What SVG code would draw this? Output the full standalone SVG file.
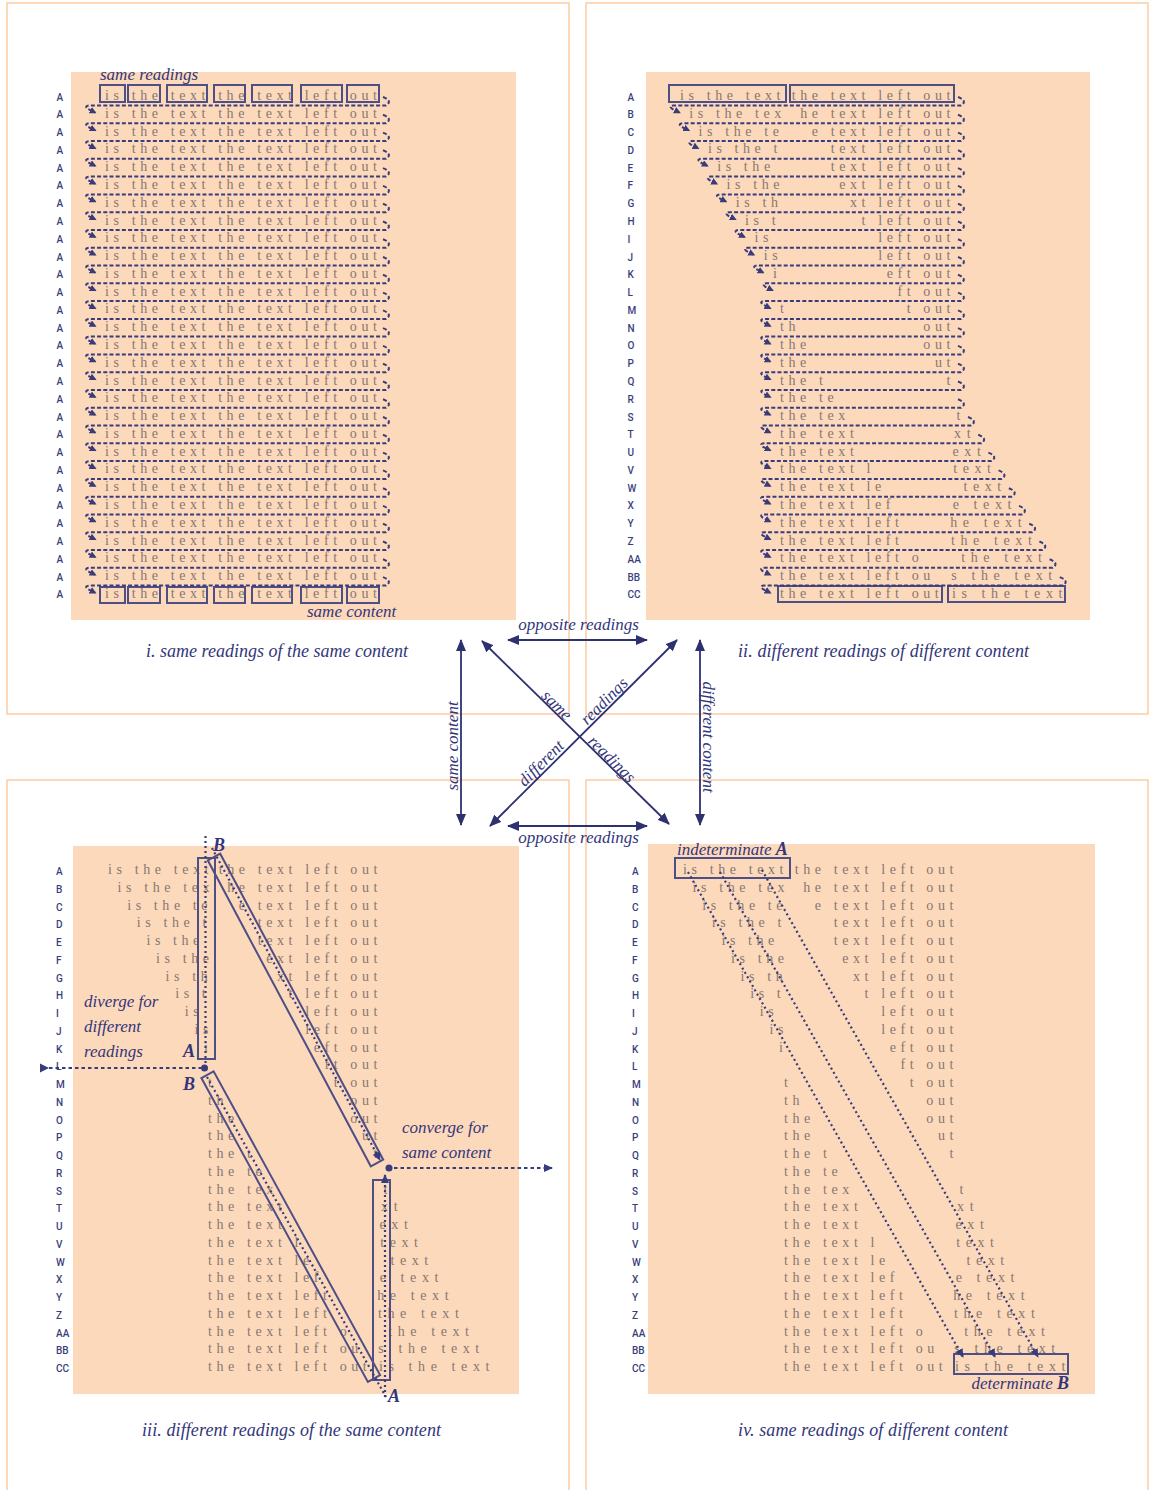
<svg xmlns="http://www.w3.org/2000/svg" xmlns:xlink="http://www.w3.org/1999/xlink" width="1149" height="1490" viewBox="0 0 1149 1490">
<style>
.fr{fill:none;stroke:#fcc594;stroke-width:1.3}
.bg{fill:#fdd9bc}
.t{font-family:"Liberation Serif","Times New Roman",serif;font-size:14px;letter-spacing:4.6px;fill:#85776f}
.e{text-anchor:end}
.w{letter-spacing:5.6px}
.lb{font-family:Roboto,"Liberation Sans",sans-serif;font-size:10px;font-weight:500;fill:#3a3e7d}
.it{font-family:"Liberation Serif","Times New Roman",serif;font-style:italic;font-size:17px;fill:#33367a}
.cap{font-size:18px}
.b{font-weight:bold;font-size:18px}
.bx{fill:none;stroke:#4d4f85;stroke-width:2}
.ds{fill:none;stroke:#383c7c;stroke-width:2;stroke-dasharray:4 2.2;marker-end:url(#ah)}
.dt{fill:none;stroke:#383c7c;stroke-width:2.2;stroke-dasharray:2 3}
.dh{fill:none;stroke:#383c7c;stroke-width:2;stroke-dasharray:3.5 3}
.ar{fill:none;stroke:#2e3170;stroke-width:1.8;marker-start:url(#big);marker-end:url(#big)}
.nv{fill:#383c7c}
</style>
<defs>
<marker id="ah" viewBox="0 0 8 8" refX="6" refY="4" markerWidth="7" markerHeight="7" markerUnits="userSpaceOnUse" orient="auto"><path d="M0,0L8,4L0,8z" fill="#383c7c"/></marker>
<marker id="big" viewBox="0 0 12 10" refX="11" refY="5" markerWidth="12" markerHeight="10" markerUnits="userSpaceOnUse" orient="auto-start-reverse"><path d="M0,0L12,5L0,10z" fill="#2e3170"/></marker>
<marker id="mid" viewBox="0 0 9 8" refX="8" refY="4" markerWidth="9" markerHeight="8" markerUnits="userSpaceOnUse" orient="auto"><path d="M0,0L9,4L0,8z" fill="#383c7c"/></marker>
<path id="r1" class="ds" d="M383 -3q10 4 3 8.5H89q-5 .5-1 3.5l7 3.5"/>
</defs>
<rect width="1149" height="1490" fill="#fff"/>

<!-- PANEL I -->
<g id="panel-i">
<rect class="fr" x="7" y="3" width="562" height="711"/>
<rect class="bg" x="71" y="72" width="445" height="548"/>
<g id="panel-i-labels" class="lb">
<text x="56.5" y="100.5">A</text><text x="56.5" y="118.3">A</text><text x="56.5" y="136.1">A</text><text x="56.5" y="153.8">A</text><text x="56.5" y="171.6">A</text><text x="56.5" y="189.4">A</text><text x="56.5" y="207.2">A</text><text x="56.5" y="225">A</text><text x="56.5" y="242.7">A</text><text x="56.5" y="260.5">A</text><text x="56.5" y="278.3">A</text><text x="56.5" y="296.1">A</text><text x="56.5" y="313.9">A</text><text x="56.5" y="331.6">A</text><text x="56.5" y="349.4">A</text><text x="56.5" y="367.2">A</text><text x="56.5" y="385">A</text><text x="56.5" y="402.8">A</text><text x="56.5" y="420.5">A</text><text x="56.5" y="438.3">A</text><text x="56.5" y="456.1">A</text><text x="56.5" y="473.9">A</text><text x="56.5" y="491.7">A</text><text x="56.5" y="509.4">A</text><text x="56.5" y="527.2">A</text><text x="56.5" y="545">A</text><text x="56.5" y="562.8">A</text><text x="56.5" y="580.6">A</text><text x="56.5" y="598.3">A</text>
</g>
<g id="panel-i-rows" class="t">
<text x="105" y="100">is the text the text left out</text><text x="105" y="117.8">is the text the text left out</text><text x="105" y="135.6">is the text the text left out</text><text x="105" y="153.3">is the text the text left out</text><text x="105" y="171.1">is the text the text left out</text><text x="105" y="188.9">is the text the text left out</text><text x="105" y="206.7">is the text the text left out</text><text x="105" y="224.5">is the text the text left out</text><text x="105" y="242.2">is the text the text left out</text><text x="105" y="260">is the text the text left out</text><text x="105" y="277.8">is the text the text left out</text><text x="105" y="295.6">is the text the text left out</text><text x="105" y="313.4">is the text the text left out</text><text x="105" y="331.1">is the text the text left out</text><text x="105" y="348.9">is the text the text left out</text><text x="105" y="366.7">is the text the text left out</text><text x="105" y="384.5">is the text the text left out</text><text x="105" y="402.3">is the text the text left out</text><text x="105" y="420">is the text the text left out</text><text x="105" y="437.8">is the text the text left out</text><text x="105" y="455.6">is the text the text left out</text><text x="105" y="473.4">is the text the text left out</text><text x="105" y="491.2">is the text the text left out</text><text x="105" y="508.9">is the text the text left out</text><text x="105" y="526.7">is the text the text left out</text><text x="105" y="544.5">is the text the text left out</text><text x="105" y="562.3">is the text the text left out</text><text x="105" y="580.1">is the text the text left out</text><text x="105" y="597.8">is the text the text left out</text>
</g>
<g id="panel-i-boxes" class="bx">
<rect x="100" y="85" width="25" height="17"/><rect x="128" y="85" width="32" height="17"/><rect x="167" y="85" width="40" height="17"/><rect x="214" y="85" width="31" height="17"/><rect x="252" y="85" width="40" height="17"/><rect x="301" y="85" width="41" height="17"/><rect x="347" y="85" width="32" height="17"/>
<rect x="100" y="587" width="25" height="16"/><rect x="128" y="587" width="32" height="16"/><rect x="167" y="587" width="40" height="16"/><rect x="214" y="587" width="31" height="16"/><rect x="252" y="587" width="40" height="16"/><rect x="301" y="587" width="41" height="16"/><rect x="347" y="587" width="32" height="16"/>
</g>
<g id="panel-i-returns">
<use href="#r1" y="100"/><use href="#r1" y="117.8"/><use href="#r1" y="135.6"/><use href="#r1" y="153.3"/><use href="#r1" y="171.1"/><use href="#r1" y="188.9"/><use href="#r1" y="206.7"/><use href="#r1" y="224.5"/><use href="#r1" y="242.2"/><use href="#r1" y="260"/><use href="#r1" y="277.8"/><use href="#r1" y="295.6"/><use href="#r1" y="313.4"/><use href="#r1" y="331.1"/><use href="#r1" y="348.9"/><use href="#r1" y="366.7"/><use href="#r1" y="384.5"/><use href="#r1" y="402.3"/><use href="#r1" y="420"/><use href="#r1" y="437.8"/><use href="#r1" y="455.6"/><use href="#r1" y="473.4"/><use href="#r1" y="491.2"/><use href="#r1" y="508.9"/><use href="#r1" y="526.7"/><use href="#r1" y="544.5"/><use href="#r1" y="562.3"/><use href="#r1" y="580.1"/>
</g>
<text class="it" x="100" y="80">same readings</text>
<text class="it" x="307" y="617">same content</text>
<text class="it cap" x="146" y="657" textLength="262">i. same readings of the same content</text>
</g>

<!-- PANEL II -->
<g id="panel-ii">
<rect class="fr" x="586" y="3" width="562" height="711"/>
<rect class="bg" x="646" y="72" width="444" height="548"/>
<g class="lb">
<text x="627.5" y="100.5">A</text><text x="627.5" y="118.3">B</text><text x="627.5" y="136.1">C</text><text x="627.5" y="153.8">D</text><text x="627.5" y="171.6">E</text><text x="627.5" y="189.4">F</text><text x="627.5" y="207.2">G</text><text x="627.5" y="225">H</text><text x="627.5" y="242.7">I</text><text x="627.5" y="260.5">J</text><text x="627.5" y="278.3">K</text><text x="627.5" y="296.1">L</text><text x="627.5" y="313.9">M</text><text x="627.5" y="331.6">N</text><text x="627.5" y="349.4">O</text><text x="627.5" y="367.2">P</text><text x="627.5" y="385">Q</text><text x="627.5" y="402.8">R</text><text x="627.5" y="420.5">S</text><text x="627.5" y="438.3">T</text><text x="627.5" y="456.1">U</text><text x="627.5" y="473.9">V</text><text x="627.5" y="491.7">W</text><text x="627.5" y="509.4">X</text><text x="627.5" y="527.2">Y</text><text x="627.5" y="545">Z</text><text x="627.5" y="562.8">AA</text><text x="627.5" y="580.6">BB</text><text x="627.5" y="598.3">CC</text>
</g>
<g class="t">
<text x="680" y="100">is the text</text><text class="e" x="955" y="100">the text left out</text>
<text x="689.3" y="117.8">is the tex</text><text class="e" x="955" y="117.8">he text left out</text>
<text x="698.6" y="135.6">is the te</text><text class="e" x="955" y="135.6">e text left out</text>
<text x="707.9" y="153.3">is the t</text><text class="e" x="955" y="153.3">text left out</text>
<text x="717.2" y="171.1">is the</text><text class="e" x="955" y="171.1">text left out</text>
<text x="726.5" y="188.9">is the</text><text class="e" x="955" y="188.9">ext left out</text>
<text x="735.8" y="206.7">is th</text><text class="e" x="955" y="206.7">xt left out</text>
<text x="745.1" y="224.5">is t</text><text class="e" x="955" y="224.5">t left out</text>
<text x="754.4" y="242.2">is</text><text class="e" x="955" y="242.2">left out</text>
<text x="763.7" y="260">is</text><text class="e" x="955" y="260">left out</text>
<text x="773" y="277.8">i</text><text class="e" x="955" y="277.8">eft out</text>
<text class="e" x="955" y="295.6">ft out</text>
<text x="780" y="313.4">t</text><text class="e" x="955" y="313.4">t out</text>
<text x="780" y="331.1">th</text><text class="e" x="955" y="331.1">out</text>
<text x="780" y="348.9">the</text><text class="e" x="955" y="348.9">out</text>
<text x="780" y="366.7">the</text><text class="e" x="955" y="366.7">ut</text>
<text x="780" y="384.5">the t</text><text class="e" x="955" y="384.5">t</text>
<text x="780" y="402.3">the te</text>
<text x="780" y="420">the tex</text><text class="e w" x="966" y="420">t</text>
<text x="780" y="437.8">the text</text><text class="e w" x="976.2" y="437.8">xt</text>
<text x="780" y="455.6">the text</text><text class="e w" x="986.4" y="455.6">ext</text>
<text x="780" y="473.4">the text l</text><text class="e w" x="996.6" y="473.4">text</text>
<text x="780" y="491.2">the text le</text><text class="e w" x="1006.8" y="491.2">text</text>
<text x="780" y="508.9">the text lef</text><text class="e w" x="1017" y="508.9">e text</text>
<text x="780" y="526.7">the text left</text><text class="e w" x="1027.2" y="526.7">he text</text>
<text x="780" y="544.5">the text left</text><text class="e w" x="1037.4" y="544.5">the text</text>
<text x="780" y="562.3">the text left o</text><text class="e w" x="1047.6" y="562.3">the text</text>
<text x="780" y="580.1">the text left ou</text><text class="e w" x="1057.8" y="580.1">s the text</text>
<text x="780" y="597.8">the text left out</text><text class="e w" x="1068" y="597.8">is the text</text>
</g>
<g class="bx">
<rect x="669" y="85" width="117" height="17"/><rect x="790" y="85" width="164" height="17"/>
<rect x="778" y="586" width="164" height="16"/><rect x="948" y="586" width="117" height="16"/>
</g>
<g id="panel-ii-returns">
<path class="ds" d="M958 97q10 4 3 8.5H673.3q-5 .5-1 3.5l7 3.5"/>
<path class="ds" d="M958 114.8q10 4 3 8.5H682.6q-5 .5-1 3.5l7 3.5"/>
<path class="ds" d="M958 132.6q10 4 3 8.5H691.9q-5 .5-1 3.5l7 3.5"/>
<path class="ds" d="M958 150.3q10 4 3 8.5H701.2q-5 .5-1 3.5l7 3.5"/>
<path class="ds" d="M958 168.1q10 4 3 8.5H710.5q-5 .5-1 3.5l7 3.5"/>
<path class="ds" d="M958 185.9q10 4 3 8.5H719.8q-5 .5-1 3.5l7 3.5"/>
<path class="ds" d="M958 203.7q10 4 3 8.5H729.1q-5 .5-1 3.5l7 3.5"/>
<path class="ds" d="M958 221.5q10 4 3 8.5H738.4q-5 .5-1 3.5l7 3.5"/>
<path class="ds" d="M958 239.2q10 4 3 8.5H747.7q-5 .5-1 3.5l7 3.5"/>
<path class="ds" d="M958 257q10 4 3 8.5H757q-5 .5-1 3.5l7 3.5"/>
<path class="ds" d="M958 274.8q10 4 3 8.5H766.3q-5 .5-1 3.5l7 3.5"/>
<path class="ds" d="M958 292.6q10 4 3 8.5H764q-5 .5-1 3.5l7 3.5"/>
<path class="ds" d="M958 310.4q10 4 3 8.5H764q-5 .5-1 3.5l7 3.5"/>
<path class="ds" d="M958 328.1q10 4 3 8.5H764q-5 .5-1 3.5l7 3.5"/>
<path class="ds" d="M958 345.9q10 4 3 8.5H764q-5 .5-1 3.5l7 3.5"/>
<path class="ds" d="M958 363.7q10 4 3 8.5H764q-5 .5-1 3.5l7 3.5"/>
<path class="ds" d="M958 381.5q10 4 3 8.5H764q-5 .5-1 3.5l7 3.5"/>
<path class="ds" d="M958 399.3q10 4 3 8.5H764q-5 .5-1 3.5l7 3.5"/>
<path class="ds" d="M968 417q10 4 3 8.5H764q-5 .5-1 3.5l7 3.5"/>
<path class="ds" d="M978.2 434.8q10 4 3 8.5H764q-5 .5-1 3.5l7 3.5"/>
<path class="ds" d="M988.4 452.6q10 4 3 8.5H764q-5 .5-1 3.5l7 3.5"/>
<path class="ds" d="M998.6 470.4q10 4 3 8.5H764q-5 .5-1 3.5l7 3.5"/>
<path class="ds" d="M1008.8 488.2q10 4 3 8.5H764q-5 .5-1 3.5l7 3.5"/>
<path class="ds" d="M1019 505.9q10 4 3 8.5H764q-5 .5-1 3.5l7 3.5"/>
<path class="ds" d="M1029.2 523.7q10 4 3 8.5H764q-5 .5-1 3.5l7 3.5"/>
<path class="ds" d="M1039.4 541.5q10 4 3 8.5H764q-5 .5-1 3.5l7 3.5"/>
<path class="ds" d="M1049.6 559.3q10 4 3 8.5H764q-5 .5-1 3.5l7 3.5"/>
<path class="ds" d="M1059.8 577.1q10 4 3 8.5H764q-5 .5-1 3.5l7 3.5"/>
</g>
<text class="it cap" x="738" y="657" textLength="291">ii. different readings of different content</text>
</g>

<!-- PANEL III -->
<g id="panel-iii">
<rect class="fr" x="7" y="780" width="562" height="716"/>
<rect class="bg" x="73" y="846" width="446" height="548"/>
<g class="lb">
<text x="56" y="875">A</text><text x="56" y="892.8">B</text><text x="56" y="910.5">C</text><text x="56" y="928.3">D</text><text x="56" y="946">E</text><text x="56" y="963.8">F</text><text x="56" y="981.5">G</text><text x="56" y="999.3">H</text><text x="56" y="1017">I</text><text x="56" y="1034.8">J</text><text x="56" y="1052.5">K</text><text x="56" y="1070.3">L</text><text x="56" y="1088">M</text><text x="56" y="1105.8">N</text><text x="56" y="1123.5">O</text><text x="56" y="1141.3">P</text><text x="56" y="1159">Q</text><text x="56" y="1176.8">R</text><text x="56" y="1194.5">S</text><text x="56" y="1212.3">T</text><text x="56" y="1230">U</text><text x="56" y="1247.8">V</text><text x="56" y="1265.5">W</text><text x="56" y="1283.3">X</text><text x="56" y="1301">Y</text><text x="56" y="1318.8">Z</text><text x="56" y="1336.5">AA</text><text x="56" y="1354.3">BB</text><text x="56" y="1372">CC</text>
</g>
<g class="t">
<text x="108" y="874">is the text</text><text class="e" x="382" y="874">the text left out</text>
<text x="117.6" y="891.75">is the tex</text><text class="e" x="382" y="891.75">he text left out</text>
<text x="127.2" y="909.5">is the te</text><text class="e" x="382" y="909.5">e text left out</text>
<text x="136.8" y="927.25">is the t</text><text class="e" x="382" y="927.25">text left out</text>
<text x="146.4" y="945">is the</text><text class="e" x="382" y="945">text left out</text>
<text x="156" y="962.75">is the</text><text class="e" x="382" y="962.75">ext left out</text>
<text x="165.6" y="980.5">is th</text><text class="e" x="382" y="980.5">xt left out</text>
<text x="175.2" y="998.25">is t</text><text class="e" x="382" y="998.25">t left out</text>
<text x="184.8" y="1016">is</text><text class="e" x="382" y="1016">left out</text>
<text x="194.4" y="1033.75">is</text><text class="e" x="382" y="1033.75">left out</text>
<text x="204" y="1051.5">i</text><text class="e" x="382" y="1051.5">eft out</text>
<text class="e" x="382" y="1069.25">ft out</text>
<text x="208" y="1087">t</text><text class="e" x="382" y="1087">t out</text>
<text x="208" y="1104.75">th</text><text class="e" x="382" y="1104.75">out</text>
<text x="208" y="1122.5">the</text><text class="e" x="382" y="1122.5">out</text>
<text x="208" y="1140.25">the</text><text class="e" x="382" y="1140.25">ut</text>
<text x="208" y="1158">the t</text><text class="e" x="382" y="1158">t</text>
<text x="208" y="1175.75">the te</text>
<text x="208" y="1193.5">the tex</text><text class="e w" x="393" y="1193.5">t</text>
<text x="208" y="1211.25">the text</text><text class="e w" x="403.2" y="1211.25">xt</text>
<text x="208" y="1229">the text</text><text class="e w" x="413.4" y="1229">ext</text>
<text x="208" y="1246.75">the text l</text><text class="e w" x="423.6" y="1246.75">text</text>
<text x="208" y="1264.5">the text le</text><text class="e w" x="433.8" y="1264.5">text</text>
<text x="208" y="1282.25">the text lef</text><text class="e w" x="444" y="1282.25">e text</text>
<text x="208" y="1300">the text left</text><text class="e w" x="454.2" y="1300">he text</text>
<text x="208" y="1317.75">the text left</text><text class="e w" x="464.4" y="1317.75">the text</text>
<text x="208" y="1335.5">the text left o</text><text class="e w" x="474.6" y="1335.5">the text</text>
<text x="208" y="1353.25">the text left ou</text><text class="e w" x="484.8" y="1353.25">s the text</text>
<text x="208" y="1371">the text left out</text><text class="e w" x="495" y="1371">is the text</text>
</g>
<g class="bx">
<rect x="198" y="858" width="17" height="201"/>
<polygon points="207.8,860.3 220.2,853.7 383.2,1159.7 370.8,1166.3"/>
<polygon points="201.4,1078.1 213.6,1071.3 380.1,1375.1 367.9,1381.9"/>
<rect x="373" y="1180" width="17" height="200"/>
</g>
<g id="panel-iii-paths">
<path class="dt" d="M205.5 836V1064"/>
<path class="dt" d="M212 848L380 1160" marker-end="url(#mid)"/>
<path class="dt" d="M207 1077L386 1397"/>
<path class="dt" d="M385 1397V1175" marker-end="url(#mid)"/>
<path class="dh" d="M49 1068H201"/>
<polygon class="nv" points="40,1063.5 40,1072.5 49,1068"/>
<circle class="nv" cx="204.5" cy="1068" r="3.5"/>
<circle class="nv" cx="389" cy="1168" r="3.5"/>
<path class="dh" d="M394 1168H552" marker-end="url(#mid)"/>
</g>
<text class="it b" x="213" y="851">B</text>
<text class="it b" x="183" y="1057">A</text>
<text class="it b" x="183" y="1090">B</text>
<text class="it b" x="388" y="1402">A</text>
<text class="it" x="84" y="1007">diverge for</text>
<text class="it" x="84" y="1032">different</text>
<text class="it" x="84" y="1057">readings</text>
<text class="it" x="402" y="1133">converge for</text>
<text class="it" x="402" y="1158">same content</text>
<text class="it cap" x="142" y="1436" textLength="299">iii. different readings of the same content</text>
</g>

<!-- PANEL IV -->
<g id="panel-iv">
<rect class="fr" x="586" y="780" width="562" height="716"/>
<rect class="bg" x="648" y="844" width="447" height="550"/>
<g class="lb">
<text x="632" y="875">A</text><text x="632" y="892.8">B</text><text x="632" y="910.5">C</text><text x="632" y="928.3">D</text><text x="632" y="946">E</text><text x="632" y="963.8">F</text><text x="632" y="981.5">G</text><text x="632" y="999.3">H</text><text x="632" y="1017">I</text><text x="632" y="1034.8">J</text><text x="632" y="1052.5">K</text><text x="632" y="1070.3">L</text><text x="632" y="1088">M</text><text x="632" y="1105.8">N</text><text x="632" y="1123.5">O</text><text x="632" y="1141.3">P</text><text x="632" y="1159">Q</text><text x="632" y="1176.8">R</text><text x="632" y="1194.5">S</text><text x="632" y="1212.3">T</text><text x="632" y="1230">U</text><text x="632" y="1247.8">V</text><text x="632" y="1265.5">W</text><text x="632" y="1283.3">X</text><text x="632" y="1301">Y</text><text x="632" y="1318.8">Z</text><text x="632" y="1336.5">AA</text><text x="632" y="1354.3">BB</text><text x="632" y="1372">CC</text>
</g>
<g class="t">
<text x="683" y="874">is the text</text><text class="e" x="958" y="874">the text left out</text>
<text x="692.6" y="891.75">is the tex</text><text class="e" x="958" y="891.75">he text left out</text>
<text x="702.2" y="909.5">is the te</text><text class="e" x="958" y="909.5">e text left out</text>
<text x="711.8" y="927.25">is the t</text><text class="e" x="958" y="927.25">text left out</text>
<text x="721.4" y="945">is the</text><text class="e" x="958" y="945">text left out</text>
<text x="731" y="962.75">is the</text><text class="e" x="958" y="962.75">ext left out</text>
<text x="740.6" y="980.5">is th</text><text class="e" x="958" y="980.5">xt left out</text>
<text x="750.2" y="998.25">is t</text><text class="e" x="958" y="998.25">t left out</text>
<text x="759.8" y="1016">is</text><text class="e" x="958" y="1016">left out</text>
<text x="769.4" y="1033.75">is</text><text class="e" x="958" y="1033.75">left out</text>
<text x="779" y="1051.5">i</text><text class="e" x="958" y="1051.5">eft out</text>
<text class="e" x="958" y="1069.25">ft out</text>
<text x="784" y="1087">t</text><text class="e" x="958" y="1087">t out</text>
<text x="784" y="1104.75">th</text><text class="e" x="958" y="1104.75">out</text>
<text x="784" y="1122.5">the</text><text class="e" x="958" y="1122.5">out</text>
<text x="784" y="1140.25">the</text><text class="e" x="958" y="1140.25">ut</text>
<text x="784" y="1158">the t</text><text class="e" x="958" y="1158">t</text>
<text x="784" y="1175.75">the te</text>
<text x="784" y="1193.5">the tex</text><text class="e w" x="969" y="1193.5">t</text>
<text x="784" y="1211.25">the text</text><text class="e w" x="979.2" y="1211.25">xt</text>
<text x="784" y="1229">the text</text><text class="e w" x="989.4" y="1229">ext</text>
<text x="784" y="1246.75">the text l</text><text class="e w" x="999.6" y="1246.75">text</text>
<text x="784" y="1264.5">the text le</text><text class="e w" x="1009.8" y="1264.5">text</text>
<text x="784" y="1282.25">the text lef</text><text class="e w" x="1020" y="1282.25">e text</text>
<text x="784" y="1300">the text left</text><text class="e w" x="1030.2" y="1300">he text</text>
<text x="784" y="1317.75">the text left</text><text class="e w" x="1040.4" y="1317.75">the text</text>
<text x="784" y="1335.5">the text left o</text><text class="e w" x="1050.6" y="1335.5">the text</text>
<text x="784" y="1353.25">the text left ou</text><text class="e w" x="1060.8" y="1353.25">s the text</text>
<text x="784" y="1371">the text left out</text><text class="e w" x="1071" y="1371">is the text</text>
</g>
<g class="bx">
<rect x="675" y="858" width="115" height="20"/>
<rect x="954" y="1354" width="114" height="20"/>
</g>
<g id="panel-iv-paths">
<path class="dt" d="M688 872L963 1357" marker-end="url(#mid)"/>
<path class="dt" d="M720 872L995 1357" marker-end="url(#mid)"/>
<path class="dt" d="M762 870L1038 1357" marker-end="url(#mid)"/>
</g>
<text class="it" x="677" y="855">indeterminate <tspan class="b">A</tspan></text>
<text class="it" x="1069" y="1389" text-anchor="end">determinate <tspan class="b">B</tspan></text>
<text class="it cap" x="738" y="1436" textLength="270">iv. same readings of different content</text>
</g>

<!-- CONNECTORS -->
<g id="connectors">
<path class="ar" d="M508 640H647"/>
<path class="ar" d="M508 826H647"/>
<path class="ar" d="M461 640V825"/>
<path class="ar" d="M700 640V825"/>
<path class="ar" d="M482 641L669 824"/>
<path class="ar" d="M677 640L490 826"/>
<text class="it" x="578.5" y="630" text-anchor="middle">opposite readings</text>
<text class="it" x="578.5" y="843" text-anchor="middle">opposite readings</text>
<text class="it" text-anchor="middle" transform="translate(458,746) rotate(-90)">same content</text>
<text class="it" text-anchor="middle" transform="translate(703,737) rotate(90)">different content</text>
<text class="it" text-anchor="middle" transform="translate(553,709) rotate(44.5)">same</text>
<text class="it" text-anchor="middle" transform="translate(608,763) rotate(44.5)">readings</text>
<text class="it" text-anchor="middle" transform="translate(608,705) rotate(-45)">readings</text>
<text class="it" text-anchor="middle" transform="translate(545,767) rotate(-45)">different</text>
</g>
</svg>
